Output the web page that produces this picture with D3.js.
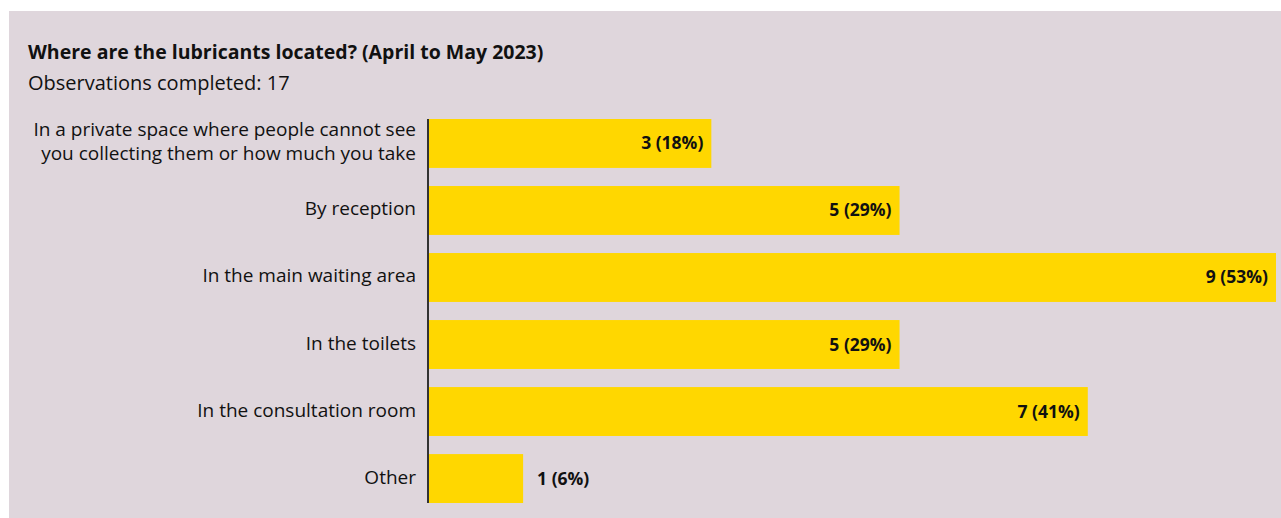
<!DOCTYPE html>
<html>
<head>
<meta charset="utf-8">
<script src="https://cdn.jsdelivr.net/npm/d3@7"></script>
<style>
  html, body { margin: 0; padding: 0; background: #ffffff; }
  svg { display: block; }
  text { font-family: "Open Sans", "Noto Sans", sans-serif; }
</style>
</head>
<body>
<svg id="chart" width="1281" height="518"></svg>
<script>
// Survey results: where lubricants are placed in the venue
const categories = [
  ["In a private space where people cannot see", "you collecting them or how much you take"],
  ["By reception"],
  ["In the main waiting area"],
  ["In the toilets"],
  ["In the consultation room"],
  ["Other"]
];
const counts = [3, 5, 9, 5, 7, 1];
const totalObservations = 17;
const xDomain = [0, 9];

const titleText = "Where are the lubricants located? (April to May 2023)";
const subtitleText = "Observations completed: " + totalObservations;

const W = 1281, H = 518;
const svg = d3.select("#chart");

// panel background
svg.append("rect")
  .attr("x", 9).attr("y", 11)
  .attr("width", W - 9).attr("height", H - 11)
  .attr("fill", "#dfd6dc");

svg.append("text")
  .attr("x", 28).attr("y", 59)
  .attr("font-size", 19.5).attr("font-weight", 700)
  .attr("fill", "#111")
  .text(titleText);

svg.append("text")
  .attr("x", 28).attr("y", 90)
  .attr("font-size", 20)
  .attr("fill", "#111")
  .text(subtitleText);

const ids = d3.range(counts.length);
const y = d3.scaleBand().domain(ids).range([119, 503]).paddingInner(0.27).paddingOuter(0);
const x = d3.scaleLinear().domain(xDomain).range([429, 1276]);

const g = svg.append("g");

g.selectAll("rect.bar")
  .data(ids)
  .join("rect")
  .attr("class", "bar")
  .attr("x", x(0))
  .attr("y", i => y(i))
  .attr("width", i => x(counts[i]) - x(0))
  .attr("height", y.bandwidth())
  .attr("fill", "#ffd700");

// value labels: inside the bar when it is wide enough, otherwise after it
g.selectAll("text.val")
  .data(ids)
  .join("text")
  .attr("class", "val")
  .each(function (i) {
    const w = x(counts[i]) - x(0);
    const inside = w > 120;
    d3.select(this)
      .attr("x", inside ? x(counts[i]) - 8 : x(counts[i]) + 14)
      .attr("text-anchor", inside ? "end" : "start");
  })
  .attr("y", i => y(i) + y.bandwidth() / 2 + 6)
  .attr("font-size", 17.5)
  .attr("font-weight", 700)
  .attr("fill", "#111")
  .text(i => `${counts[i]} (${Math.round(counts[i] / totalObservations * 100)}%)`);

// category labels, right aligned against the axis
const lh = 24;
g.selectAll("text.cat")
  .data(ids)
  .join("text")
  .attr("class", "cat")
  .attr("x", 416)
  .attr("text-anchor", "end")
  .attr("font-size", 19)
  .attr("fill", "#111")
  .attr("y", i => y(i) + y.bandwidth() / 2 + 5 - (categories[i].length - 1) * lh / 2)
  .each(function (i) {
    const t = d3.select(this);
    categories[i].forEach((ln, k) => {
      t.append("tspan")
        .attr("x", 416)
        .attr("dy", k === 0 ? 0 : lh)
        .text(ln);
    });
  });

// vertical axis line
g.append("line")
  .attr("x1", 428).attr("x2", 428)
  .attr("y1", y(0)).attr("y2", y(ids.length - 1) + y.bandwidth())
  .attr("stroke", "#333").attr("stroke-width", 2);
</script>
</body>
</html>
